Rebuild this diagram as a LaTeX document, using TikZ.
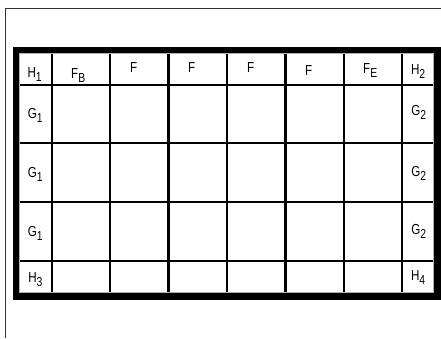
\documentclass[tikz,border=0pt]{standalone}
\usepackage{fontspec}
\setmainfont{Liberation Sans}[FakeStretch=0.8]
\newcommand{\lblsub}[2]{#1\raisebox{-4pt}{\fontsize{13}{13}\selectfont #2}}

\begin{document}
\begin{tikzpicture}[x=1pt, y=-1pt]
  \tikzstyle{border}=[line width=6.8pt, line join=miter]
  \tikzstyle{gridline}=[line width=2.4pt]
  \tikzstyle{cell label}=[anchor=base west, inner sep=0pt, font=\fontsize{14.5}{14.5}\selectfont]

  \useasboundingbox (0,0) rectangle (441,338);

  % Outer frame
  \draw[line width=1pt, black!80] (5,338) -- (5,8) -- (441,8);

  % Grid lines
  \foreach \x in {51.8, 110.2, 168.6, 227.0, 285.4, 343.8, 402.0}
    \draw[gridline] (\x,53) -- (\x,294);
  \foreach \y in {84.7, 143.2, 202.2, 261.0}
    \draw[gridline] (19,\y) -- (435,\y);

  % Thick border
  \draw[line width=1pt, black!30] (19.9,53.9) rectangle (433.9,292.9);
  \draw[border] (16,50) rectangle (437.8,296.8);

  % Top row
  \node[cell label] (h1) at (27.4,77) {\lblsub{H}{1}};
  \node[cell label] (fb) at (71,78) {\lblsub{F}{B}};
  \node[cell label] (f1) at (130,72.3) {F};
  \node[cell label] (f2) at (188,72.3) {F};
  \node[cell label] (f3) at (247,72.3) {F};
  \node[cell label] (f4) at (305,75) {F};
  \node[cell label] (fe) at (363,73.3) {\lblsub{F}{E}};
  \node[cell label] (h2) at (410.8,74.3) {\lblsub{H}{2}};

  % Side columns
  \foreach \y/\n in {118/1, 177.5/2, 236/3}
    \node[cell label] (g1\n) at (27.7,\y) {\lblsub{G}{1}};
  \foreach \y/\n in {115/1, 176/2, 234/3}
    \node[cell label] (g2\n) at (411.1,\y) {\lblsub{G}{2}};

  % Bottom row
  \node[cell label] (h3) at (28.1,282) {\lblsub{H}{3}};
  \node[cell label] (h4) at (410.8,280.7) {\lblsub{H}{4}};
\end{tikzpicture}
\end{document}
